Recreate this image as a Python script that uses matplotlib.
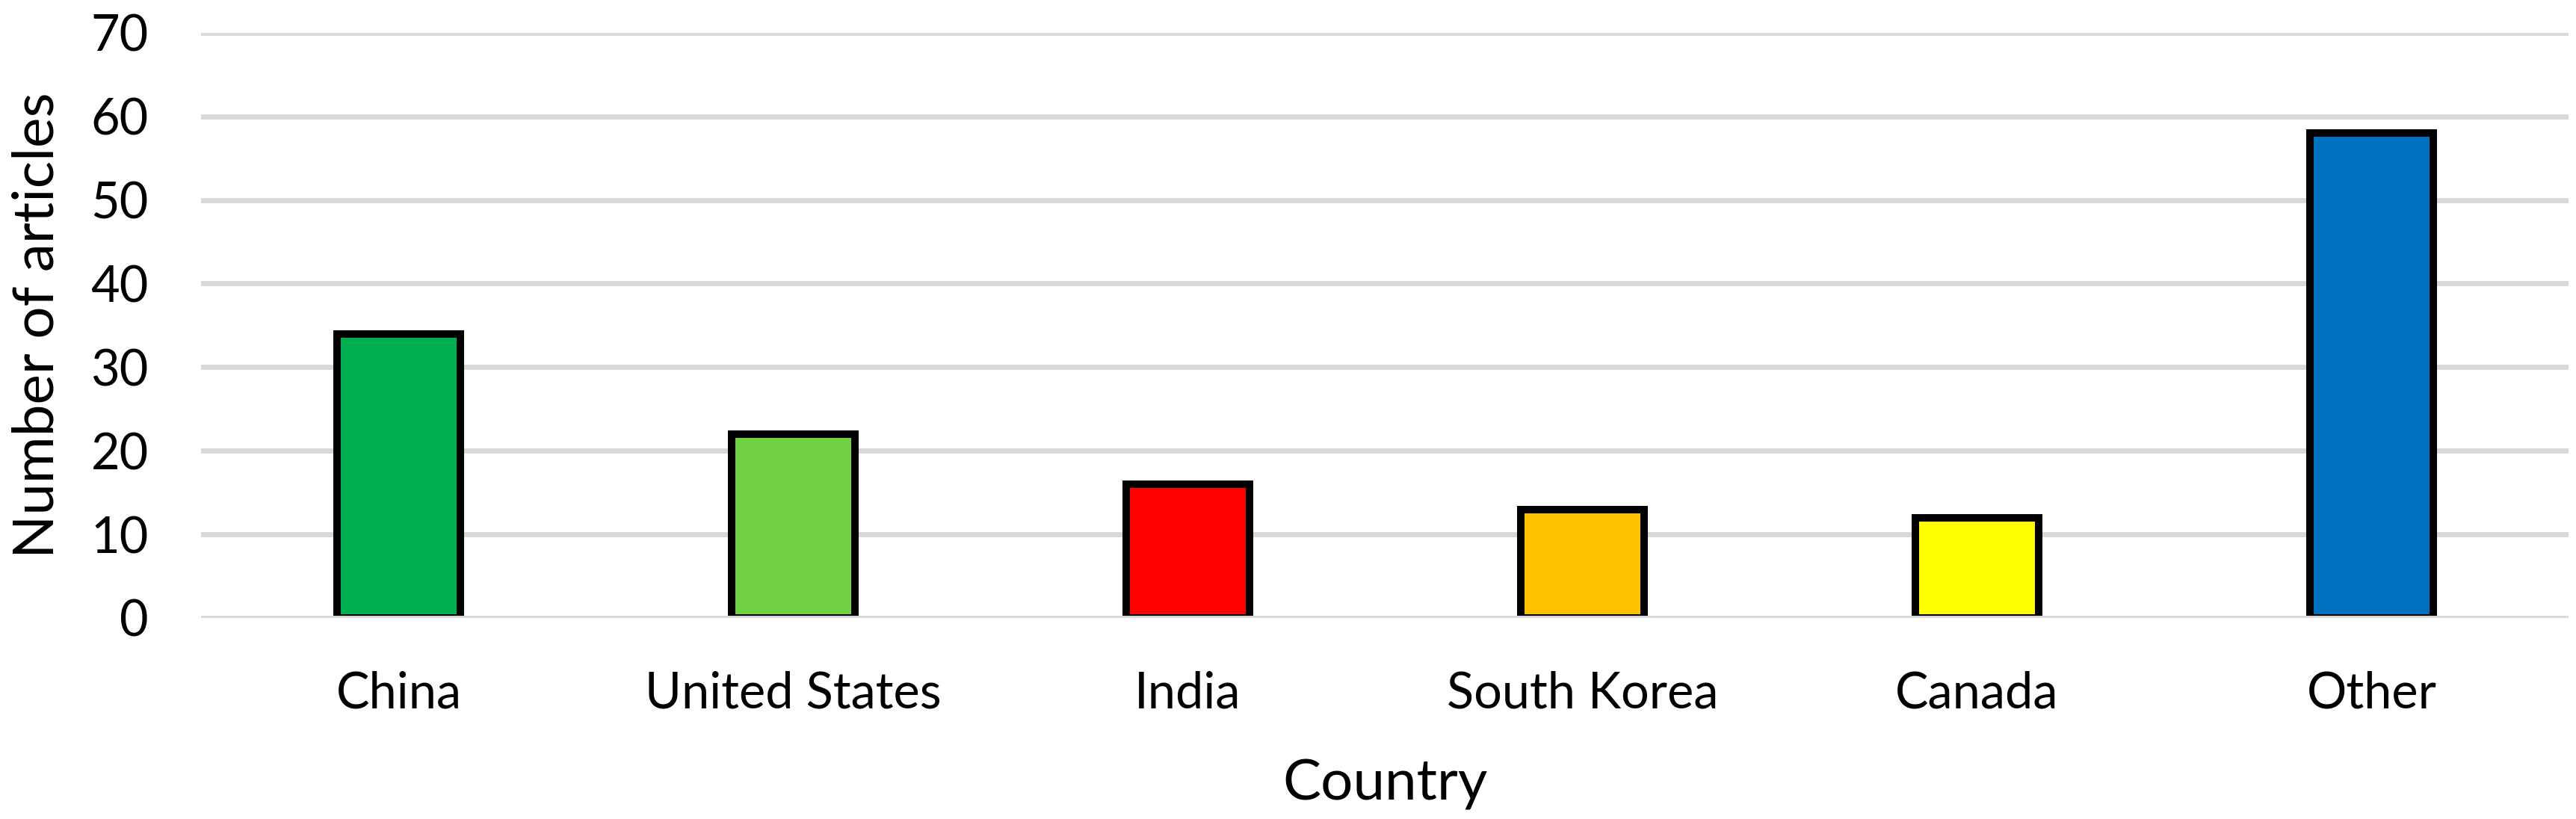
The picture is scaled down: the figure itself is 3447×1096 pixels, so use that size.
import matplotlib
matplotlib.use('Agg')
import matplotlib.pyplot as plt

# data
countries = ['China', 'United States', 'India', 'South Korea', 'Canada', 'Other']
articles = [34, 22, 16, 13, 12, 58]
bar_colors = ['#00B050', '#6FD143', '#FF0000', '#FFC000', '#FFFF00', '#0070C0']
y_ticks = [0, 10, 20, 30, 40, 50, 60, 70]

GRID = '#D9D9D9'
W, H, DPI = 3448, 1096, 100

plt.rcParams.update({
    'font.family': ['Lato', 'DejaVu Sans'],
})

fig = plt.figure(figsize=(W / DPI, H / DPI), dpi=DPI)
ax = fig.add_axes([269.5 / W, 269 / H, 3168 / W, 783.3 / H])

x = range(len(countries))
ax.bar(x, articles, width=0.3125, color=bar_colors, edgecolor='black',
       linewidth=7.2, zorder=2)

# zero line sits on top of the bars, like in the original
ax.axhline(0, color=GRID, linewidth=5, zorder=3)

ax.set_xlim(-0.5, 5.5)
ax.set_ylim(0, 70)
ax.set_yticks(y_ticks)
ax.set_xticks(list(x))
ax.set_xticklabels(countries)
ax.set_axisbelow(True)
ax.yaxis.grid(True, color=GRID, linewidth=5)
ax.xaxis.grid(False)
for s in ax.spines.values():
    s.set_visible(False)
ax.tick_params(axis='both', length=0, labelsize=48)
ax.tick_params(axis='y', pad=51)
ax.tick_params(axis='x', pad=51)

ax.set_xlabel('Country', fontsize=55, labelpad=40)
ax.set_ylabel('Number of articles', fontsize=55)
ax.yaxis.label.set_va('center')
ax.yaxis.set_label_coords(-0.0693, 0.5)

fig.savefig('out.png', dpi=DPI)
